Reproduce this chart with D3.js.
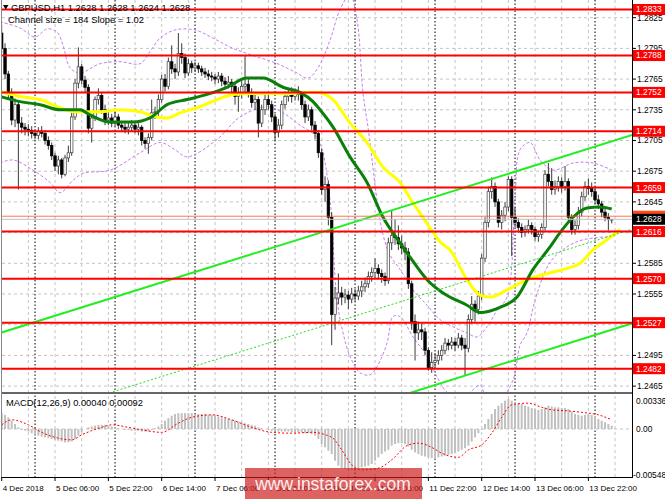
<!DOCTYPE html>
<html><head><meta charset="utf-8">
<script src="https://cdn.jsdelivr.net/npm/d3@7"></script>
<style>body{margin:0;background:#fff}svg{display:block}text{font-family:"Liberation Sans",Arial,sans-serif}</style>
</head><body><svg id="c" width="665" height="499"></svg>
<script>
// ---------- DATA ----------
const firstOpen = 1.2810;
const closes = [
1.2795,1.2770,1.2752,1.2725,1.2740,1.2722,1.2718,1.2716,1.2715,1.2712,
1.2710,1.2714,1.2712,1.2705,1.2700,1.2690,1.2680,1.2686,1.2672,1.2688,
1.2693,1.2728,1.2761,1.2777,1.2764,1.2757,1.2717,1.2727,1.2745,1.2749,
1.2735,1.2725,1.2727,1.2722,1.2728,1.2720,1.2718,1.2716,1.2718,1.2720,
1.2716,1.2718,1.2705,1.2702,1.2708,1.2732,1.2733,1.2745,1.2765,1.2758,
1.2782,1.2775,1.2772,1.2790,1.2786,1.2771,1.2780,1.2776,1.2778,1.2775,
1.2772,1.2770,1.2768,1.2767,1.2765,1.2768,1.2763,1.2760,1.2762,1.2758,
1.2748,1.2752,1.2758,1.2760,1.2752,1.2742,1.2745,1.2722,1.2735,1.2745,
1.2740,1.2728,1.2713,1.2720,1.2740,1.2748,1.2750,1.2748,1.2751,1.2750,
1.2740,1.2728,1.2735,1.2720,1.2712,1.2693,1.2657,1.2662,1.2630,1.2535,
1.2551,1.2556,1.2552,1.2554,1.2550,1.2555,1.2553,1.2558,1.2562,1.2565,
1.2572,1.2576,1.2580,1.2575,1.2572,1.2568,1.2605,1.2612,1.2610,1.2604,
1.2600,1.2596,1.2565,1.2528,1.2517,1.2520,1.2518,1.2500,1.2483,1.2488,
1.2490,1.2495,1.2500,1.2507,1.2505,1.2508,1.2505,1.2512,1.2505,1.2502,
1.2530,1.2545,1.2540,1.2553,1.2590,1.2625,1.2655,1.2660,1.2645,1.2625,
1.2632,1.2640,1.2667,1.2630,1.2625,1.2620,1.2615,1.2618,1.2622,1.2618,
1.2611,1.2613,1.2620,1.2672,1.2665,1.2657,1.2660,1.2665,1.2660,1.2665,
1.2630,1.2618,1.2622,1.2635,1.2650,1.2660,1.2658,1.2655,1.2647,1.2643,
1.2635,1.2630,1.2628,1.2628];
const highs = [
1.2818,1.2800,1.2773,1.2756,1.2746,1.2744,1.2728,1.2722,1.2721,1.2719,
1.2716,1.2718,1.2719,1.2715,1.2709,1.2703,1.2693,1.2690,1.2688,1.2691,
1.2700,1.2732,1.2765,1.2796,1.2780,1.2768,1.2760,1.2731,1.2748,1.2756,
1.2752,1.2740,1.2733,1.2731,1.2734,1.2731,1.2724,1.2722,1.2722,1.2725,
1.2723,1.2722,1.2720,1.2708,1.2712,1.2745,1.2738,1.2750,1.2769,1.2770,
1.2786,1.2798,1.2780,1.2810,1.2800,1.2790,1.2785,1.2783,1.2782,1.2781,
1.2778,1.2776,1.2774,1.2772,1.2770,1.2772,1.2771,1.2767,1.2768,1.2765,
1.2762,1.2757,1.2763,1.2788,1.2765,1.2756,1.2752,1.2748,1.2740,1.2750,
1.2751,1.2744,1.2731,1.2726,1.2744,1.2753,1.2755,1.2757,1.2756,1.2758,
1.2753,1.2744,1.2740,1.2738,1.2724,1.2715,1.2697,1.2670,1.2666,1.2635,
1.2562,1.2575,1.2562,1.2560,1.2558,1.2561,1.2560,1.2563,1.2568,1.2571,
1.2577,1.2581,1.2590,1.2584,1.2579,1.2576,1.2610,1.2637,1.2628,1.2622,
1.2612,1.2606,1.2600,1.2568,1.2535,1.2528,1.2526,1.2522,1.2503,1.2498,
1.2497,1.2500,1.2505,1.2512,1.2511,1.2513,1.2512,1.2517,1.2515,1.2512,
1.2535,1.2553,1.2549,1.2558,1.2594,1.2630,1.2660,1.2669,1.2664,1.2648,
1.2637,1.2645,1.2670,1.2670,1.2640,1.2629,1.2624,1.2622,1.2628,1.2625,
1.2621,1.2617,1.2624,1.2676,1.2683,1.2678,1.2666,1.2670,1.2669,1.2680,
1.2668,1.2633,1.2627,1.2640,1.2655,1.2665,1.2668,1.2664,1.2660,1.2652,
1.2646,1.2640,1.2634,1.2628];
const lows = [
1.2790,1.2765,1.2745,1.2720,1.2718,1.2657,1.2712,1.2710,1.2709,1.2707,
1.2706,1.2706,1.2708,1.2701,1.2696,1.2686,1.2675,1.2672,1.2668,1.2670,
1.2684,1.2690,1.2725,1.2756,1.2760,1.2752,1.2712,1.2703,1.2724,1.2740,
1.2731,1.2720,1.2720,1.2718,1.2719,1.2716,1.2713,1.2712,1.2711,1.2714,
1.2712,1.2710,1.2700,1.2697,1.2692,1.2705,1.2726,1.2729,1.2742,1.2753,
1.2755,1.2770,1.2765,1.2768,1.2780,1.2766,1.2768,1.2771,1.2772,1.2771,
1.2768,1.2766,1.2764,1.2763,1.2760,1.2761,1.2758,1.2755,1.2756,1.2752,
1.2740,1.2733,1.2746,1.2752,1.2747,1.2737,1.2735,1.2708,1.2718,1.2730,
1.2735,1.2723,1.2705,1.2708,1.2716,1.2736,1.2743,1.2742,1.2744,1.2744,
1.2735,1.2722,1.2724,1.2715,1.2706,1.2688,1.2652,1.2645,1.2622,1.2505,
1.2520,1.2545,1.2544,1.2546,1.2540,1.2546,1.2548,1.2549,1.2552,1.2557,
1.2561,1.2567,1.2570,1.2570,1.2566,1.2563,1.2565,1.2598,1.2603,1.2598,
1.2594,1.2588,1.2560,1.2520,1.2490,1.2510,1.2510,1.2495,1.2480,1.2478,
1.2482,1.2486,1.2490,1.2496,1.2500,1.2501,1.2499,1.2502,1.2500,1.2475,
1.2498,1.2526,1.2528,1.2535,1.2549,1.2586,1.2620,1.2648,1.2640,1.2620,
1.2618,1.2626,1.2636,1.2592,1.2620,1.2615,1.2610,1.2611,1.2614,1.2613,
1.2607,1.2606,1.2609,1.2617,1.2660,1.2652,1.2652,1.2655,1.2654,1.2656,
1.2626,1.2613,1.2613,1.2618,1.2631,1.2646,1.2652,1.2650,1.2643,1.2638,
1.2630,1.2626,1.2617,1.2624];

// MACD histogram (units of 0.0001)
const macdHist = [
19,17,14,10,6,2,-1,-2,-3,-5,
-7,-8,-9,-10,-11,-12,-13,-14,-15,-16,
-16,-15,-12,-8,-4,0,2,3,4,5,
5,5,4,3,2,1,0,-1,-1,-2,
-2,-2,-3,-3,-3,-1,1,3,6,10,
13,16,18,19,19,19,19,19,18,18,
18,18,17,17,16,15,14,13,12,11,
10,9,8,7,6,5,4,2,1,0,
-1,-2,-3,-3,-3,-3,-3,-4,-4,-4,
-4,-5,-5,-6,-8,-12,-18,-22,-26,-30,
-38,-44,-47,-48,-49,-49,-48,-47,-46,-45,
-44,-42,-38,-34,-30,-27,-25,-20,-18,-17,
-17,-18,-21,-25,-28,-30,-32,-33,-34,-35,
-35,-34,-33,-32,-31,-30,-29,-27,-25,-23,
-20,-15,-10,-5,-1,6,12,18,24,28,
31,34,36,34,32,31,30,28,27,25,
24,23,24,26,28,27,26,26,25,25,
24,21,18,17,16,17,18,17,15,12,
10,8,6,4];
// MACD signal [bar, value in 0.0001]
const macdSignal = [[0,5],[3,11],[8,5],[12,-4],[17,-11],[21,-13],[24,-7],[30,2],[33,5],[38,2],[42,-1],[48,-4],[53,7],[57,14],[63,17],[69,11],[75,2],[81,-4],[87,-5],[93,-4],[99,-10],[102,-25],[105,-43],[108,-49],[113,-47],[117,-37],[122,-19],[125,-17],[129,-22],[132,-29],[137,-34],[140,-25],[144,-19],[147,-5],[150,14],[153,29],[158,31],[162,26],[165,23],[169,22],[174,20],[179,17],[183,11]];

// moving averages [bar, price]
const maYellow = [[-0.5,1.2753],[5.5,1.2748],[11.5,1.2745],[17.5,1.2737],[22.6,1.2733],[29.5,1.2733],[35.5,1.2735],[41.5,1.2733],[46.6,1.2728],[49.6,1.2727],[53.5,1.2732],[59.5,1.2738],[64.6,1.2745],[69.4,1.2750],[74.5,1.2751],[79.6,1.2751],[85.6,1.2751],[91.6,1.2752],[94.6,1.2752],[99.4,1.2745],[104.5,1.2722],[109.6,1.2703],[114.4,1.2679],[119.5,1.2664],[123.4,1.2644],[127.6,1.2624],[131.5,1.2606],[134.5,1.2598],[139.6,1.2569],[143.5,1.2554],[146.5,1.2552],[151.6,1.2559],[157.6,1.2569],[162.4,1.2574],[169.6,1.2580],[173.5,1.2585],[177.4,1.2598],[181.6,1.2608],[185.5,1.2618]];
const maGreen = [[-0.5,1.2748],[5.5,1.2743],[11.5,1.2740],[17.5,1.2735],[23.5,1.2735],[26.5,1.2730],[32.5,1.2723],[39.4,1.2723],[44.5,1.2727],[49.6,1.2740],[55.6,1.2745],[61.6,1.2750],[67.6,1.2757],[73.6,1.2766],[78.4,1.2766],[84.4,1.2757],[89.5,1.2752],[93.4,1.2743],[95.5,1.2735],[99.4,1.2718],[104.5,1.2689],[109.6,1.2664],[114.4,1.2630],[119.5,1.2605],[122.5,1.2591],[127.6,1.2569],[132.4,1.2556],[139.6,1.2544],[143.5,1.2537],[149.5,1.2542],[154.6,1.2552],[159.4,1.2579],[164.5,1.2601],[167.5,1.2615],[171.4,1.2630],[175.6,1.2639],[179.5,1.2640],[183,1.2638]];
// envelope bands (violet dashed) [bar, price]
const bandUpper = [[-0.5,1.2821],[5.5,1.2815],[10,1.2806],[13.6,1.2814],[16.6,1.2811],[18.4,1.2798],[20.5,1.2776],[23.5,1.2771],[29.5,1.2780],[35.5,1.2782],[41.5,1.2780],[44.5,1.2792],[47.5,1.2805],[52,1.2813],[58,1.2813],[63.4,1.2805],[69.4,1.2795],[75.4,1.2788],[82,1.2781],[88,1.2772],[91.9,1.2766],[94.9,1.2776],[98.5,1.2803],[101.5,1.2833],[104.5,1.2847],[106.6,1.2823],[108.4,1.2751],[109.9,1.2718],[111.1,1.2686],[112.6,1.2647],[114.4,1.2613],[116.5,1.2593],[119.5,1.2579],[123.4,1.2559],[127.6,1.2544],[131.5,1.2530],[136,1.2522],[139.6,1.2517],[142.6,1.2513],[145.6,1.2523],[148.6,1.2539],[151.6,1.2552],[154,1.2647],[155.5,1.2696],[158.5,1.2703],[161.5,1.2686],[165.4,1.2676],[171.4,1.2683],[177.4,1.2683],[183.1,1.2676]];
const bandLower = [[-0.5,1.2683],[3.4,1.2686],[9.4,1.2676],[14.5,1.2664],[17.5,1.2654],[21.4,1.2666],[24.4,1.2673],[32.5,1.2676],[41.5,1.2693],[47.5,1.2703],[52,1.2696],[55.6,1.2689],[64.6,1.2706],[71.5,1.2728],[79.6,1.2738],[84.4,1.2732],[89.5,1.2720],[94,1.2710],[96.1,1.2696],[98.5,1.2647],[100.6,1.2549],[102.4,1.2517],[104.5,1.2494],[107.5,1.2478],[110.5,1.2476],[112.6,1.2484],[115.6,1.2507],[117.4,1.2533],[119.5,1.2533],[123.4,1.2513],[127.6,1.2494],[130.6,1.2474],[133.6,1.2459],[137.5,1.2454],[140.5,1.2459],[143.5,1.2466],[145.6,1.2452],[149.5,1.2452],[153.4,1.2471],[155.5,1.2505],[157.6,1.2517],[160,1.2549],[164.5,1.2586],[169.6,1.2601],[174.4,1.2608],[182.5,1.2611]];

// regression channel: middle line anchors and half width
const channelMid = [[0,1.24254],[188,1.26172]];
const channelHalf = 0.0092;

const levels = [1.2833,1.2788,1.2752,1.2714,1.2659,1.2616,1.2570,1.2527,1.2482];
const priceTicks = [1.2825,1.2795,1.2765,1.2735,1.2705,1.2675,1.2645,1.2615,1.2585,1.2555,1.2525,1.2495,1.2465];
const hiddenTickLabels = [1.2615,1.2525]; // covered by level boxes in the reference
const bidPrice = 1.2628, askPrice = 1.2631;
const macdTicks = [[0.00336,"0.00336"],[0,"0.00"],[-0.00548,"-0.00548"]];
const timeLabels = [[0,"4 Dec 2018"],[16,"5 Dec 06:00"],[32,"5 Dec 22:00"],[48,"6 Dec 14:00"],[64,"7 Dec 06:00"],[80,"7 Dec 22:00"],[96,"10 Dec 14:00"],[112,"11 Dec 06:00"],[128,"11 Dec 22:00"],[144,"12 Dec 14:00"],[160,"13 Dec 06:00"],[176,"13 Dec 22:00"]];
const daySeparators = [10,34,58,82,106,130,154,178];
const headerText = "GBPUSD,H1  1.2628 1.2628 1.2624 1.2628";
const channelText = "Channel size = 184 Slope = 1.02";
const macdText = "MACD(12,26,9) 0.00040 0.00092";

// ---------- DRAW ----------
const svg = d3.select('#c');
const PL=2, PR=632, MB=392, MT2=394, MB2=477;
const x = d3.scaleLinear().domain([0,189]).range([1.7,631.7]);
const y = d3.scaleLinear().domain([1.2833,1.2482]).range([9.5,368.7]);
const ym = d3.scaleLinear().domain([0.00336,-0.00548]).range([401,474.7]);

const defs = svg.append('defs');
defs.append('clipPath').attr('id','cm').append('rect').attr('x',PL).attr('y',0).attr('width',PR-PL).attr('height',MB);
defs.append('clipPath').attr('id','cd').append('rect').attr('x',PL).attr('y',MT2).attr('width',PR-PL).attr('height',MB2-MT2);

svg.append('rect').attr('width',665).attr('height',499).attr('fill','#fff');

const gMain = svg.append('g').attr('clip-path','url(#cm)');
const gMacd = svg.append('g').attr('clip-path','url(#cd)');

// grids
gMain.selectAll('.hg').data(priceTicks).enter().append('line')
  .attr('x1',PL).attr('x2',PR).attr('y1',d=>y(d)).attr('y2',d=>y(d))
  .attr('stroke','#c4c4c4').attr('stroke-dasharray','3,3');
const vgrid = d3.range(8,190,8);
[gMain,gMacd].forEach(g=>{
  g.selectAll('.vg').data(vgrid).enter().append('line')
   .attr('x1',d=>x(d)).attr('x2',d=>x(d)).attr('y1',0).attr('y2',MB2)
   .attr('stroke','#c4c4c4').attr('stroke-dasharray','3,3');
  g.selectAll('.ds').data(daySeparators).enter().append('line')
   .attr('x1',d=>x(d)).attr('x2',d=>x(d)).attr('y1',0).attr('y2',MB2)
   .attr('stroke','#000').attr('stroke-dasharray','1.5,2');
});
gMacd.append('line').attr('x1',PL).attr('x2',PR).attr('y1',ym(0)).attr('y2',ym(0))
  .attr('stroke','#c4c4c4').attr('stroke-dasharray','3,3');

// header text
const hdr = svg.append('g');
hdr.append('path').attr('d','M3,5 L8.5,5 L5.75,9.5 Z').attr('fill','#000');
hdr.append('text').attr('x',11).attr('y',10.8).attr('font-size',9.4).attr('fill','#000').text(headerText);
hdr.append('text').attr('x',8).attr('y',22.5).attr('font-size',9.4).attr('fill','#000').text(channelText);

// bands
const lineFn = (ys)=>d3.line().x(d=>x(d[0])).y(d=>ys(d[1])).curve(d3.curveCatmullRom.alpha(0.5));
[bandUpper,bandLower].forEach(b=>{
  gMain.append('path').attr('d',lineFn(y)(b)).attr('fill','none')
    .attr('stroke','#c77ded').attr('stroke-width',1).attr('stroke-dasharray','3,2');
});

// candles
const bars = closes.map((c,i)=>({i, o: i===0?firstOpen:closes[i-1], h: highs[i], l: lows[i], c}));
const cg = gMain.append('g');
cg.selectAll('.w').data(bars).enter().append('line')
  .attr('x1',d=>x(d.i)).attr('x2',d=>x(d.i)).attr('y1',d=>y(d.h)).attr('y2',d=>y(d.l))
  .attr('stroke','#3a3a3a').attr('stroke-width',1);
cg.selectAll('.b').data(bars).enter().append('rect')
  .attr('x',d=>x(d.i)-1.25).attr('width',2.5)
  .attr('y',d=>y(Math.max(d.o,d.c)))
  .attr('height',d=>Math.max(0.8,Math.abs(y(d.o)-y(d.c))))
  .attr('fill',d=>d.c>=d.o?'#fff':'#000')
  .attr('stroke',d=>d.c>=d.o?'#3a3a3a':'#000').attr('stroke-width',0.7);

// MAs
gMain.append('path').attr('d',d3.line().x(d=>x(d[0])).y(d=>y(d[1])).curve(d3.curveMonotoneX)(maYellow))
  .attr('fill','none').attr('stroke','#ffff00').attr('stroke-width',3);
gMain.append('path').attr('d',d3.line().x(d=>x(d[0])).y(d=>y(d[1])).curve(d3.curveMonotoneX)(maGreen))
  .attr('fill','none').attr('stroke','#0a800a').attr('stroke-width',3);

// channel
const chan = (off)=>channelMid.map(d=>[d[0], d[1]+off]);
const ext = (pts)=>{
  const s=(pts[1][1]-pts[0][1])/(pts[1][0]-pts[0][0]);
  return [[-1, pts[0][1]+s*(-1-pts[0][0])],[190, pts[0][1]+s*(190-pts[0][0])]];
};
const sl = d3.line().x(d=>x(d[0])).y(d=>y(d[1]));
gMain.append('path').attr('d',sl(ext(chan(channelHalf)))).attr('stroke','#22ee22').attr('stroke-width',2).attr('fill','none');
gMain.append('path').attr('d',sl(ext(chan(-channelHalf)))).attr('stroke','#22ee22').attr('stroke-width',2).attr('fill','none');
gMain.append('path').attr('d',sl(ext(chan(0)))).attr('stroke','#22dd22').attr('stroke-width',1).attr('stroke-dasharray','2,2').attr('fill','none');

// bid/ask lines
gMain.append('line').attr('x1',PL).attr('x2',PR).attr('y1',y(bidPrice)).attr('y2',y(bidPrice)).attr('stroke','#c0c0c0').attr('stroke-width',1);
gMain.append('line').attr('x1',PL).attr('x2',PR).attr('y1',y(askPrice)).attr('y2',y(askPrice)).attr('stroke','#ff5020').attr('stroke-width',0.8);

// red levels
gMain.selectAll('.lv').data(levels).enter().append('line')
  .attr('x1',PL).attr('x2',PR).attr('y1',d=>y(d)).attr('y2',d=>y(d))
  .attr('stroke','#ff0000').attr('stroke-width',2);

// MACD
gMacd.selectAll('.mh').data(macdHist).enter().append('rect')
  .attr('x',(d,i)=>x(i)-1).attr('width',2)
  .attr('y',d=>Math.min(ym(0),ym(d*1e-4))).attr('height',d=>Math.abs(ym(d*1e-4)-ym(0)))
  .attr('fill','#c0c0c0');
gMacd.append('path').attr('d',d3.line().x(d=>x(d[0])).y(d=>ym(d[1]*1e-4)).curve(d3.curveMonotoneX)(macdSignal))
  .attr('fill','none').attr('stroke','#ff0000').attr('stroke-width',1).attr('stroke-dasharray','2,2');
svg.append('text').attr('x',6).attr('y',405.5).attr('font-size',9.3).attr('fill','#000').text(macdText);

// frame
svg.append('line').attr('x1',1.5).attr('x2',1.5).attr('y1',0).attr('y2',MB2).attr('stroke','#888');
svg.append('line').attr('x1',PL).attr('x2',PR).attr('y1',393).attr('y2',393).attr('stroke','#666').attr('stroke-width',2.2);
svg.append('line').attr('x1',PR+0.5).attr('x2',PR+0.5).attr('y1',0).attr('y2',MB2+1).attr('stroke','#000');
svg.append('line').attr('x1',PL).attr('x2',PR).attr('y1',MB2+0.5).attr('y2',MB2+0.5).attr('stroke','#000');

// right price axis
const ax = svg.append('g');
ax.selectAll('.pt').data(priceTicks).enter().append('line')
  .attr('x1',PR).attr('x2',PR+4).attr('y1',d=>y(d)).attr('y2',d=>y(d)).attr('stroke','#000');
ax.selectAll('.pl').data(priceTicks.filter(d=>!hiddenTickLabels.includes(d))).enter().append('text')
  .attr('x',PR+5).attr('y',d=>y(d)).attr('dy','0.35em').attr('font-size',8.4).attr('fill','#000')
  .text(d=>d.toFixed(4));
ax.selectAll('.mt').data(macdTicks).enter().append('text')
  .attr('x',d=>d[0]<0?PR+1:PR+4).attr('y',d=>ym(d[0])).attr('dy','0.35em').attr('font-size',8.4).attr('fill','#000')
  .text(d=>d[1]);
// level labels
const lab = ax.selectAll('.lb').data(levels).enter().append('g');
lab.append('rect').attr('x',PR+1).attr('y',d=>y(d)-5.5).attr('width',33).attr('height',11).attr('fill','#ff0000');
lab.append('text').attr('x',PR+4).attr('y',d=>y(d)).attr('dy','0.35em').attr('font-size',8.4).attr('fill','#fff').text(d=>d.toFixed(4));
// ask strip / bid label
ax.append('rect').attr('x',PR+1).attr('y',y(askPrice)-5.5).attr('width',33).attr('height',11).attr('fill','#ff4a1a');
ax.append('rect').attr('x',PR+1).attr('y',y(bidPrice)-5.5).attr('width',33).attr('height',11).attr('fill','#000');
ax.append('text').attr('x',PR+4).attr('y',y(bidPrice)).attr('dy','0.35em').attr('font-size',8.4).attr('fill','#fff').text(bidPrice.toFixed(4));

// time axis
const tx = svg.append('g');
tx.selectAll('.tt').data(timeLabels).enter().append('line')
  .attr('x1',d=>x(d[0])).attr('x2',d=>x(d[0])).attr('y1',MB2).attr('y2',MB2+4).attr('stroke','#000');
tx.selectAll('.tl').data(timeLabels).enter().append('text')
  .attr('x',d=>x(d[0])+1).attr('y',491).attr('font-size',8).attr('fill','#000').text(d=>d[1]);

// watermark
svg.append('rect').attr('x',245).attr('y',468).attr('width',177).attr('height',31).attr('fill','rgba(205,25,25,0.68)');
svg.append('text').attr('x',333).attr('y',490).attr('text-anchor','middle').attr('font-size',17.5)
  .attr('fill','rgba(255,255,255,0.92)').text('www.instaforex.com');
</script></body></html>
